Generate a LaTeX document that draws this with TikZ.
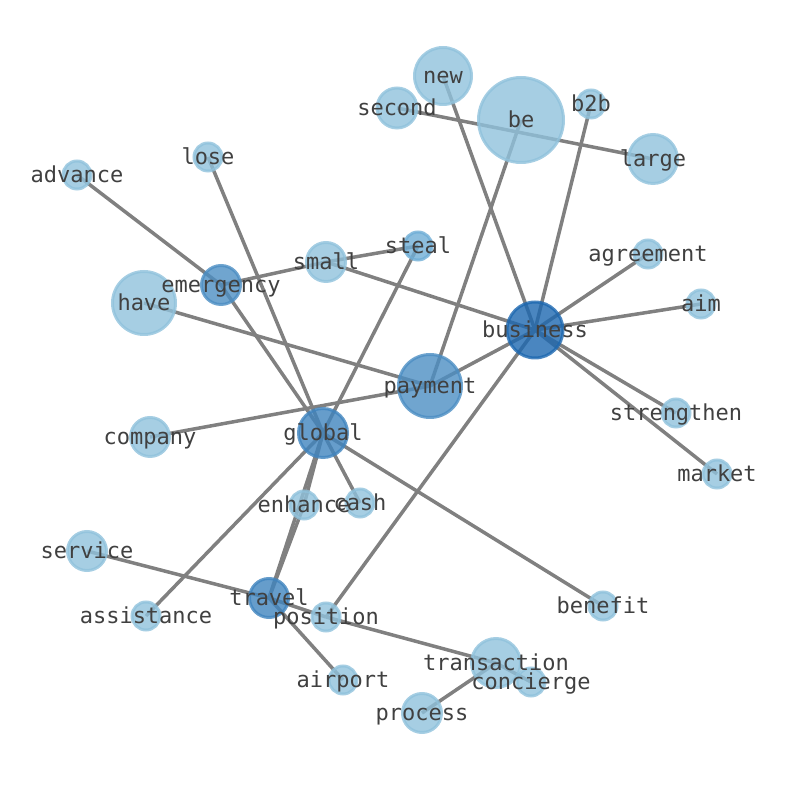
\documentclass[tikz,border=0pt]{standalone}
\usepackage{fontspec}
\usepackage{tikz}
\usetikzlibrary{backgrounds}
\setmonofont{DejaVu Sans Mono}
\definecolor{wordlight}{RGB}{144,194,220}
\definecolor{wordsteal}{RGB}{111,174,214}
\definecolor{wordmid}{RGB}{76,142,195}
\definecolor{wordhub}{RGB}{64,132,190}
\definecolor{wordtop}{RGB}{29,104,176}

\begin{document}
\begin{tikzpicture}[x=0.5pt,y=-0.5pt,
  word/.style={circle, inner sep=0pt, line width=1.5pt, draw=#1, fill=#1,
    fill opacity=0.8, draw opacity=0.8},
  word/.default=wordlight,
  tag/.style={inner sep=0pt, text height=8.5pt, text depth=0.8pt,
    text=black!75, font=\fontsize{11}{13}\ttfamily},
  link/.style={draw=gray, line width=1.75pt}]
\useasboundingbox (0,0) rectangle (794,790);
% words
\node [word, minimum size=28.5pt] (new) at (443,76) {};
\node [word, minimum size=42.5pt] (be) at (521,120) {};
\node [word, minimum size=14pt] (b2b) at (591,104) {};
\node [word, minimum size=20pt] (second) at (397,108) {};
\node [word, minimum size=24.5pt] (large) at (653,159) {};
\node [word, minimum size=14pt] (advance) at (77,175) {};
\node [word, minimum size=14pt] (lose) at (208,157) {};
\node [word=wordsteal, minimum size=14pt] (steal) at (418,246) {};
\node [word, minimum size=19.5pt] (small) at (326,262) {};
\node [word=wordmid, minimum size=19.5pt] (emergency) at (221,285) {};
\node [word, minimum size=31.5pt] (have) at (144,303) {};
\node [word, minimum size=14pt] (agreement) at (648,254) {};
\node [word, minimum size=14pt] (aim) at (701,304) {};
\node [word=wordtop, minimum size=28pt] (business) at (535,330) {};
\node [word=wordmid, minimum size=31.5pt] (payment) at (430,386) {};
\node [word, minimum size=14pt] (strengthen) at (676,413) {};
\node [word, minimum size=19.5pt] (company) at (150,437) {};
\node [word=wordhub, minimum size=24.5pt] (global) at (323,433) {};
\node [word, minimum size=14pt] (market) at (717,474) {};
\node [word, minimum size=14pt] (enhance) at (304,505) {};
\node [word, minimum size=14pt] (cash) at (360,503) {};
\node [word, minimum size=19.5pt] (service) at (87,551) {};
\node [word=wordhub, minimum size=19.5pt] (travel) at (269,598) {};
\node [word, minimum size=14pt] (benefit) at (603,606) {};
\node [word, minimum size=14pt] (assistance) at (146,616) {};
\node [word, minimum size=14pt] (position) at (326,617) {};
\node [word, minimum size=24.5pt] (transaction) at (496,663) {};
\node [word, minimum size=14pt] (concierge) at (531,682) {};
\node [word, minimum size=14pt] (airport) at (343,680) {};
\node [word, minimum size=19.5pt] (process) at (422,713) {};
% texts
\node [tag] (new-t) at (new) {new};
\node [tag] (be-t) at (be) {be};
\node [tag] (b2b-t) at (b2b) {b2b};
\node [tag] (second-t) at (second) {second};
\node [tag] (large-t) at (large) {large};
\node [tag] (advance-t) at (advance) {advance};
\node [tag] (lose-t) at (lose) {lose};
\node [tag] (steal-t) at (steal) {steal};
\node [tag] (small-t) at (small) {small};
\node [tag] (emergency-t) at (emergency) {emergency};
\node [tag] (have-t) at (have) {have};
\node [tag] (agreement-t) at (agreement) {agreement};
\node [tag] (aim-t) at (aim) {aim};
\node [tag] (business-t) at (business) {business};
\node [tag] (payment-t) at (payment) {payment};
\node [tag] (strengthen-t) at (strengthen) {strengthen};
\node [tag] (company-t) at (company) {company};
\node [tag] (global-t) at (global) {global};
\node [tag] (market-t) at (market) {market};
\node [tag] (enhance-t) at (enhance) {enhance};
\node [tag] (cash-t) at (cash) {cash};
\node [tag] (service-t) at (service) {service};
\node [tag] (travel-t) at (travel) {travel};
\node [tag] (benefit-t) at (benefit) {benefit};
\node [tag] (assistance-t) at (assistance) {assistance};
\node [tag] (position-t) at (position) {position};
\node [tag] (transaction-t) at (transaction) {transaction};
\node [tag] (concierge-t) at (concierge) {concierge};
\node [tag] (airport-t) at (airport) {airport};
\node [tag] (process-t) at (process) {process};
% links
\begin{scope}[on background layer]
\draw [link] (new.center) -- (business.center);
\draw [link] (be.center) -- (payment.center);
\draw [link] (b2b.center) -- (business.center);
\draw [link] (second.center) -- (large.center);
\draw [link] (advance.center) -- (emergency.center);
\draw [link] (emergency.center) -- (global.center);
\draw [link] (lose.center) -- (global.center);
\draw [link] (emergency.center) -- (small.center);
\draw [link] (small.center) -- (steal.center);
\draw [link] (small.center) -- (business.center);
\draw [link] (steal.center) -- (global.center);
\draw [link] (have.center) -- (payment.center);
\draw [link] (company.center) -- (payment.center);
\draw [link] (payment.center) -- (business.center);
\draw [link] (business.center) -- (agreement.center);
\draw [link] (business.center) -- (aim.center);
\draw [link] (business.center) -- (strengthen.center);
\draw [link] (business.center) -- (market.center);
\draw [link] (business.center) -- (position.center);
\draw [link] (global.center) -- (assistance.center);
\draw [link] (global.center) -- (cash.center);
\draw [link] (global.center) -- (benefit.center);
\draw [link] (global.center) -- (travel.center);
\draw [link] (global.center) -- (enhance.center);
\draw [link] (enhance.center) -- (travel.center);
\draw [link] (service.center) -- (travel.center);
\draw [link] (travel.center) -- (position.center);
\draw [link] (position.center) -- (transaction.center);
\draw [link] (travel.center) -- (airport.center);
\draw [link] (process.center) -- (transaction.center);
\draw [link] (transaction.center) -- (concierge.center);
\end{scope}
\end{tikzpicture}
\end{document}
